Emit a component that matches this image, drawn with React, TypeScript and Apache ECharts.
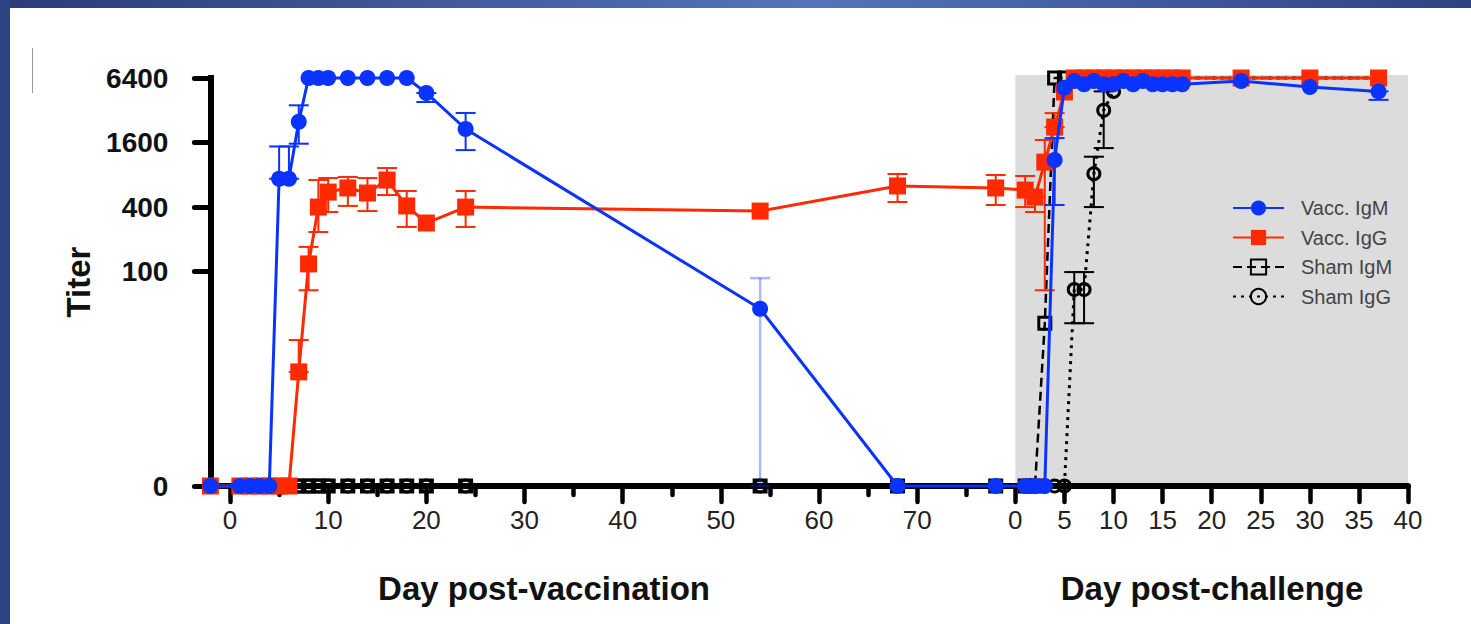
import React, { useEffect, useRef } from 'react';
import * as echarts from 'echarts';

// ---------- data ----------
const CHALLENGE_START = 80; // challenge day 0 sits at day 80 on the shared day axis
const vaccDays = [-2, 1, 2, 3, 4, 5, 6, 7, 8, 9, 10, 12, 14, 16, 18, 20, 24, 54, 68];
const challengeDays = [-2, 1, 2, 3, 4, 5, 6, 7, 8, 9, 10, 11, 12, 13, 14, 15, 16, 17, 23, 30, 37];

const vaccIgM_vacc = [0, 0, 0, 0, 0, 735, 735, 2500, 6400, 6400, 6400, 6400, 6400, 6400, 6400, 4640, 2140, 45, 0];
const vaccIgM_chal = [0, 0, 0, 0, 1100, 5200, 6000, 5600, 6000, 5600, 5600, 6000, 5600, 6000, 5600, 5600, 5600, 5600, 6000, 5270, 4800];
const vaccIgG_vacc = [0, 0, 0, 0, 0, 0, 0, 11.6, 118, 400, 552, 603, 541, 715, 410, 284, 400, 367, 630];
const vaccIgG_chal = [603, 576, 496, 1050, 2230, 4740, 6400, 6400, 6400, 6400, 6400, 6400, 6400, 6400, 6400, 6400, 6400, 6400, 6400, 6400, 6400];
const shamIgM_vacc = [0, 0, 0, 0, 0, 0, 0, 0, 0, 0, 0, 0, 0, 0, 0, 0, 0, 0, 0];
const shamIgM_chal = [0, 0, 0, 33, 6400, 6400, 6400, 6400, 6400, 6400, 6400, 6400, 6400, 6400, 6400, 6400, 6400, 6400, 6400, 6400, 6400];
const shamIgG_vacc = [0, 0, 0, 0, 0, 0, 0, 0, 0, 0, 0, 0, 0, 0, 0, 0, 0, 0, 0];
const shamIgG_chal = [0, 0, 0, 0, 0, 0, 68, 68, 820, 3200, 4800, 6400, 6400, 6400, 6400, 6400, 6400, 6400, 6400, 6400, 6400];

// error bars: [day, low titer, high titer]
const vaccIgM_errVacc = [[5, 735, 1470], [6, 735, 1470], [7, 1560, 3560], [20, 3820, 4640], [24, 1360, 3020]];
const vaccIgM_errVaccFaint = [[54, 0, 87]];
const vaccIgM_errChal = [[4, 418, 1760], [37, 4000, 4800]];
const vaccIgG_errVacc = [[7, 11.6, 23], [8, 67, 170], [9, 234, 715], [10, 360, 746], [12, 410, 764], [14, 367, 746], [16, 518, 925], [18, 261, 565], [24, 261, 565], [68, 446, 814]];
const vaccIgG_errChal = [[-2, 418, 797], [1, 400, 780], [2, 360, 496], [3, 67, 1690], [4, 2230, 3010]];
const shamIgG_errChal = [[6, 33, 99], [7, 33, 99], [8, 400, 1180], [9, 1420, 4800]];

const yTickTiters = [0, 100, 400, 1600, 6400];
const xTickVacc = [0, 10, 20, 30, 40, 50, 60, 70];
const xMinorVacc = [5, 15, 25, 35, 45, 55, 65, 75];
const xTickChal = [0, 5, 10, 15, 20, 25, 30, 35, 40];

const seriesNames = ['Vacc. IgM', 'Vacc. IgG', 'Sham IgM', 'Sham IgG'];

// ---------- helpers ----------
const FONT = 'Liberation Sans, Arial, Helvetica, sans-serif';
const BLUE = '#0a33ff';
const RED = '#ff2a00';
const toY = (t: number) => (t > 0 ? Math.log2(t) : 0);
const Y_MAX = toY(6400);

function buildLine(vacc: number[], chal: number[]) {
  return [
    ...vaccDays.map((d, i) => [d, toY(vacc[i])]),
    ...challengeDays.map((c, i) => [CHALLENGE_START + c, toY(chal[i])]),
  ];
}
function buildErr(vaccErr: number[][], chalErr: number[][]) {
  return [
    ...vaccErr.map(([d, lo, hi]) => [d, toY(lo), toY(hi)]),
    ...chalErr.map(([c, lo, hi]) => [CHALLENGE_START + c, toY(lo), toY(hi)]),
  ];
}

function lineSeries(name: string, data: number[][], color: string, symbol: string, size: number, lineType: any, open: boolean, z: number, width = 3) {
  return {
    type: 'line', name, data, symbol, symbolSize: size, z, showAllSymbol: true, clip: false,
    lineStyle: { color, width, type: lineType },
    itemStyle: open
      ? { color: 'rgba(255,255,255,0)', borderColor: color, borderWidth: 3 }
      : { color, borderWidth: 0 },
    emphasis: { disabled: true },
  };
}

function errSeries(data: number[][], color: string, z: number, opacity = 1, width = 2) {
  return {
    type: 'custom', data, z, silent: true, clip: false,
    encode: { x: 0, y: [1, 2] },
    renderItem: (_p: any, api: any) => {
      const x = api.value(0), lo = api.value(1), hi = api.value(2);
      const a = api.coord([x, lo]);
      const b = api.coord([x, hi]);
      const style = { stroke: color, lineWidth: width, opacity };
      const hw = 10;
      return {
        type: 'group', children: [
          { type: 'line', shape: { x1: a[0], y1: a[1], x2: b[0], y2: b[1] }, style },
          { type: 'line', shape: { x1: b[0] - hw, y1: b[1], x2: b[0] + hw, y2: b[1] }, style },
          { type: 'line', shape: { x1: a[0] - hw, y1: a[1], x2: a[0] + hw, y2: a[1] }, style },
        ],
      };
    },
  };
}

export default function App() {
  const ref = useRef<HTMLDivElement>(null);
  useEffect(() => {
    if (!ref.current) return;
    const chart = echarts.init(ref.current, null, { renderer: 'svg' });
    const majorTicks = [...xTickVacc, ...xTickChal.map((c) => c + CHALLENGE_START)];
    const option: any = {
      animation: false,
      backgroundColor: '#ffffff',
      grid: { left: 210.4, right: 63, top: 78, bottom: 138, containLabel: false, outerBoundsMode: 'none' },
      xAxis: [
        {
          type: 'value', min: -2, max: 120, position: 'bottom',
          splitLine: { show: false },
          axisLine: { show: true, onZero: false, lineStyle: { color: '#000', width: 6 } },
          axisTick: { show: true, customValues: majorTicks, length: 16, lineStyle: { color: '#000', width: 4.5, cap: 'round' } },
          axisLabel: {
            show: true, customValues: majorTicks, margin: 21, fontSize: 26, color: '#222', fontFamily: FONT,
            formatter: (v: number) => String(v >= CHALLENGE_START ? v - CHALLENGE_START : v),
          },
        },
        {
          type: 'value', min: -2, max: 120, position: 'bottom',
          splitLine: { show: false },
          axisLine: { show: false, onZero: false },
          axisTick: { show: true, customValues: xMinorVacc, length: 9, lineStyle: { color: '#000', width: 4.5, cap: 'round' } },
          axisLabel: { show: false },
        },
      ],
      yAxis: {
        type: 'value', min: 0, max: Y_MAX,
        splitLine: { show: false },
        axisLine: { show: true, onZero: false, lineStyle: { color: '#000', width: 6, cap: 'square' } },
        axisTick: { show: true, customValues: yTickTiters.map(toY), length: 16, lineStyle: { color: '#000', width: 5, cap: 'round' } },
        axisLabel: {
          show: true, customValues: yTickTiters.map(toY), margin: 42, fontSize: 28, fontWeight: 'bold', color: '#111', fontFamily: FONT,
          formatter: (v: number) => (v < 0.01 ? '0' : String(Math.round(Math.pow(2, v)))),
        },
        name: 'Titer', nameLocation: 'middle', nameRotate: 90, nameGap: 107,
        nameTextStyle: { fontSize: 33, fontWeight: 'bold', color: '#111', fontFamily: FONT },
      },
      legend: {
        show: true, orient: 'vertical', left: 1227, top: 193, itemWidth: 51, itemHeight: 19, itemGap: 9.5,
        data: seriesNames, selectedMode: false,
        textStyle: { fontSize: 20, color: '#444', fontFamily: FONT, padding: [0, 0, 0, 12] },
      },
      graphic: [
        {
          type: 'rect', silent: true, z: 100, shape: { x: 0, y: 0, width: 1471, height: 8 },
          style: {
            fill: {
              type: 'linear', x: 0, y: 0, x2: 1, y2: 0,
              colorStops: [
                { offset: 0, color: '#2b3c77' },
                { offset: 0.55, color: '#5474bb' },
                { offset: 1, color: '#2f4384' },
              ],
            },
          },
        },
        { type: 'rect', silent: true, z: 100, shape: { x: 0, y: 0, width: 10, height: 624 }, style: { fill: '#2e4383' } },
        { type: 'line', silent: true, shape: { x1: 32.5, y1: 48, x2: 32.5, y2: 93 }, style: { stroke: '#9a9a9a', lineWidth: 1 } },
        {
          type: 'text', silent: true, x: 544, y: 588,
          style: { text: 'Day post-vaccination', fontSize: 33, fontWeight: 'bold', fontFamily: FONT, fill: '#111', align: 'center', verticalAlign: 'middle' },
        },
        {
          type: 'text', silent: true, x: 1212, y: 588,
          style: { text: 'Day post-challenge', fontSize: 33, fontWeight: 'bold', fontFamily: FONT, fill: '#111', align: 'center', verticalAlign: 'middle' },
        },
      ],
      series: [
        {
          type: 'custom', z: 1, silent: true, clip: false,
          data: [[CHALLENGE_START + xTickChal[0], CHALLENGE_START + xTickChal[xTickChal.length - 1]]],
          encode: { x: [0, 1] },
          renderItem: (_p: any, api: any) => {
            const tl = api.coord([api.value(0), Y_MAX]);
            const br = api.coord([api.value(1), 0]);
            return { type: 'rect', shape: { x: tl[0], y: tl[1] - 3, width: br[0] - tl[0], height: br[1] - tl[1] }, style: { fill: '#dcdcdc' } };
          },
        },
        lineSeries('Sham IgM', buildLine(shamIgM_vacc, shamIgM_chal), '#000', 'rect', 12, [9, 5], true, 2, 2.5),
        lineSeries('Sham IgG', buildLine(shamIgG_vacc, shamIgG_chal), '#000', 'circle', 12, [3, 5], true, 2, 3),
        errSeries(buildErr([], shamIgG_errChal), '#000', 2),
        lineSeries('Vacc. IgG', buildLine(vaccIgG_vacc, vaccIgG_chal), RED, 'rect', 17, 'solid', false, 3),
        errSeries(buildErr(vaccIgG_errVacc, vaccIgG_errChal), RED, 3),
        lineSeries('Vacc. IgM', buildLine(vaccIgM_vacc, vaccIgM_chal), BLUE, 'circle', 16, 'solid', false, 4),
        errSeries(buildErr(vaccIgM_errVacc, vaccIgM_errChal), BLUE, 4),
        errSeries(buildErr(vaccIgM_errVaccFaint, []), BLUE, 4, 0.35, 2.5),
      ],
    };
    chart.setOption(option);
    return () => chart.dispose();
  }, []);
  return <div ref={ref} style={{ position: 'absolute', left: 0, top: 0, width: '1471px', height: '624px' }} />;
}
